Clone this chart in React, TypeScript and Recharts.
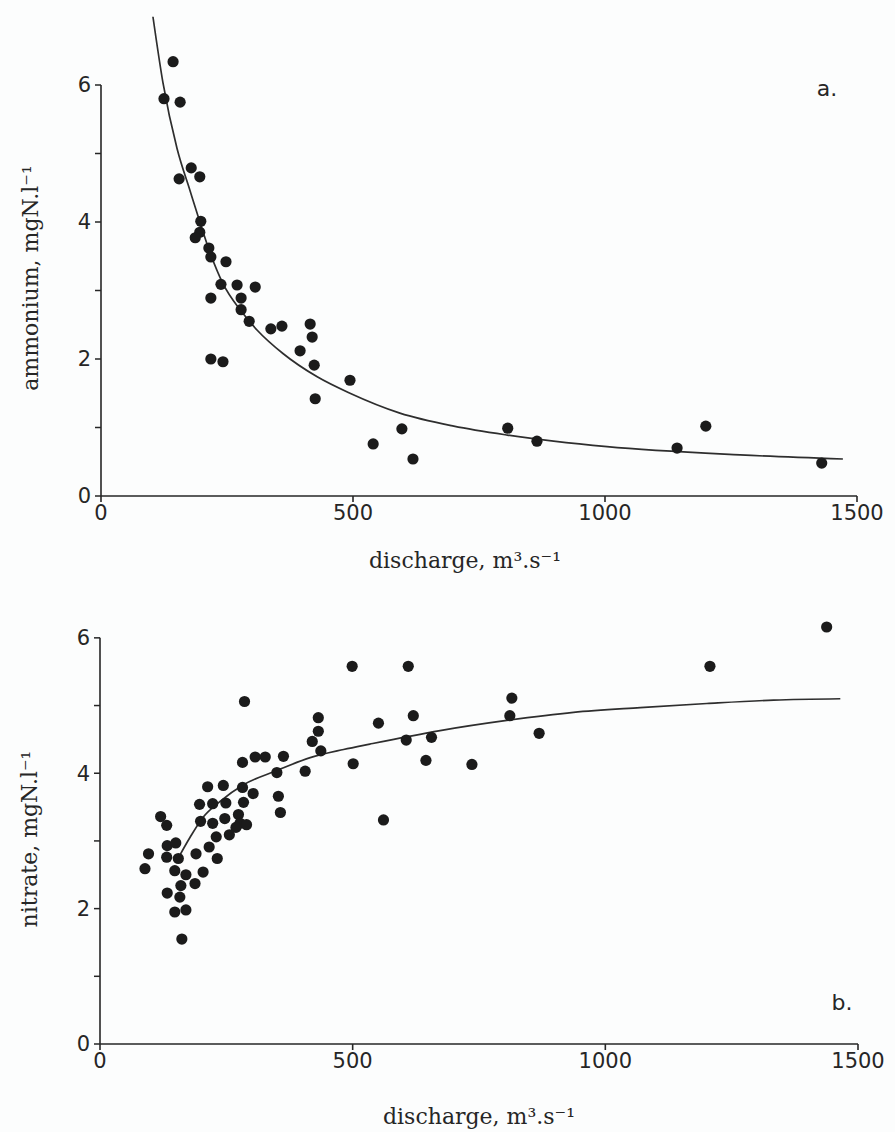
import React from "react";
import { ComposedChart, Scatter, Line, XAxis, YAxis, ReferenceLine } from "recharts";

// a. ammonium against discharge
const ammoniumQ = [143, 125, 157, 179, 196, 155, 198, 196, 187, 214, 218, 248, 238, 270, 306, 218, 278, 278, 294, 337, 359, 415, 419, 395, 423, 218, 242, 494, 425, 540, 597, 619, 807, 865, 1143, 1200, 1430];
const ammoniumN = [6.34, 5.8, 5.75, 4.79, 4.66, 4.63, 4.01, 3.85, 3.77, 3.62, 3.49, 3.42, 3.09, 3.08, 3.05, 2.89, 2.89, 2.72, 2.55, 2.44, 2.48, 2.51, 2.32, 2.12, 1.91, 2.0, 1.96, 1.69, 1.42, 0.76, 0.98, 0.54, 0.99, 0.8, 0.7, 1.02, 0.48];
const ammoniumFitQ = [103, 123, 151, 177, 194, 216, 242, 278, 310, 361, 429, 494, 593, 700, 806, 1004, 1268, 1472];
const ammoniumFitN = [7.0, 6.03, 5.07, 4.45, 4.05, 3.56, 3.1, 2.7, 2.42, 2.08, 1.74, 1.5, 1.21, 1.02, 0.89, 0.72, 0.6, 0.54];

// b. nitrate against discharge
const nitrateQ = [499, 286, 432, 432, 420, 437, 501, 363, 327, 307, 282, 350, 406, 282, 303, 353, 357, 213, 244, 197, 223, 249, 284, 247, 274, 199, 223, 277, 290, 269, 256, 230, 216, 232, 204, 188, 190, 120, 132, 133, 150, 132, 155, 96, 89, 148, 170, 160, 133, 158, 148, 170, 162, 551, 620, 606, 656, 645, 561, 610, 1438, 1207, 815, 811, 869, 736];
const nitrateN = [5.58, 5.06, 4.82, 4.62, 4.47, 4.33, 4.14, 4.25, 4.24, 4.24, 4.16, 4.01, 4.03, 3.79, 3.7, 3.66, 3.42, 3.8, 3.82, 3.54, 3.55, 3.56, 3.57, 3.33, 3.39, 3.29, 3.26, 3.26, 3.24, 3.2, 3.09, 3.06, 2.91, 2.74, 2.54, 2.37, 2.81, 3.36, 3.23, 2.93, 2.97, 2.76, 2.74, 2.81, 2.59, 2.56, 2.5, 2.34, 2.23, 2.17, 1.95, 1.98, 1.55, 4.74, 4.85, 4.49, 4.53, 4.19, 3.31, 5.58, 6.16, 5.58, 5.11, 4.85, 4.59, 4.13];
const nitrateFitQ = [158, 178, 204, 237, 284, 350, 416, 482, 534, 673, 805, 937, 1069, 1201, 1333, 1465];
const nitrateFitN = [2.79, 3.05, 3.35, 3.58, 3.83, 4.04, 4.23, 4.35, 4.43, 4.63, 4.78, 4.9, 4.97, 5.03, 5.08, 5.1];

const xTicks = [0, 500, 1000, 1500];
const yTicks = [0, 1, 2, 3, 4, 5, 6];

const ink = "#262626";
const tickFont = { fontSize: 21, fill: ink, fontFamily: "DejaVu Sans" };
const serif = "DejaVu Serif";

const pairs = (xs: number[], ys: number[]) => xs.map((x, i) => ({ x, y: ys[i] }));

const Dot = (p: any) => <circle cx={p.cx} cy={p.cy} r={5.6} fill="#1b1b1b" />;

function Panel({ q, n, fitQ, fitN, top, height, margin, yMax }: any) {
  return (
    <div style={{ position: "absolute", left: 0, top, width: 895, height }}>
      <ComposedChart width={895} height={height} margin={margin}>
        <XAxis
          type="number"
          dataKey="x"
          domain={[0, 1500]}
          ticks={xTicks}
          height={40}
          tickSize={6}
          tickMargin={3}
          stroke={ink}
          strokeWidth={1.6}
          tick={tickFont}
          allowDataOverflow
        />
        <YAxis
          type="number"
          domain={[0, yMax]}
          ticks={yTicks}
          tickFormatter={(v: number) => (v % 2 === 0 ? String(v) : "")}
          width={60}
          axisLine={false}
          tickLine={{ stroke: ink, strokeWidth: 1.5 }}
          tickSize={6}
          tickMargin={4}
          tick={tickFont}
          allowDataOverflow
        />
        <ReferenceLine segment={[{ x: 0, y: 0 }, { x: 0, y: 6 }]} stroke={ink} strokeWidth={1.6} />
        <Line
          data={pairs(fitQ, fitN)}
          dataKey="y"
          type="monotone"
          stroke="#2e2e2e"
          strokeWidth={1.7}
          dot={false}
          activeDot={false}
          isAnimationActive={false}
        />
        <Scatter data={pairs(q, n)} dataKey="y" shape={Dot} isAnimationActive={false} />
      </ComposedChart>
    </div>
  );
}

const textAt = (x: number, y: number, extra: React.CSSProperties = {}): React.CSSProperties => ({
  position: "absolute",
  left: x,
  top: y,
  transform: "translate(-50%, -50%)",
  whiteSpace: "nowrap",
  color: ink,
  ...extra,
});

const rotated = "translate(-50%, -50%) rotate(-90deg)";

export default function App() {
  return (
    <div style={{ position: "absolute", left: 0, top: 0, width: 895, height: 1132, background: "#fcfdfd", overflow: "hidden" }}>
      <Panel
        q={ammoniumQ}
        n={ammoniumN}
        fitQ={ammoniumFitQ}
        fitN={ammoniumFitN}
        top={0}
        height={580}
        margin={{ top: 16.5, right: 38, bottom: 44, left: 41 }}
        yMax={7}
      />
      <Panel
        q={nitrateQ}
        n={nitrateN}
        fitQ={nitrateFitQ}
        fitN={nitrateFitN}
        top={580}
        height={552}
        margin={{ top: 24, right: 37, bottom: 48, left: 40 }}
        yMax={6.5}
      />
      <div style={textAt(465, 560, { fontFamily: serif, fontSize: 22 })}>discharge, m³.s⁻¹</div>
      <div style={textAt(30, 278, { fontFamily: serif, fontSize: 22, transform: rotated })}>ammonium, mgN.l⁻¹</div>
      <div style={textAt(827, 88, { fontFamily: "DejaVu Sans", fontSize: 22 })}>a.</div>
      <div style={textAt(479, 1116, { fontFamily: serif, fontSize: 22 })}>discharge, m³.s⁻¹</div>
      <div style={textAt(29, 839, { fontFamily: serif, fontSize: 22, transform: rotated })}>nitrate, mgN.l⁻¹</div>
      <div style={textAt(842, 1002, { fontFamily: "DejaVu Sans", fontSize: 22 })}>b.</div>
    </div>
  );
}
